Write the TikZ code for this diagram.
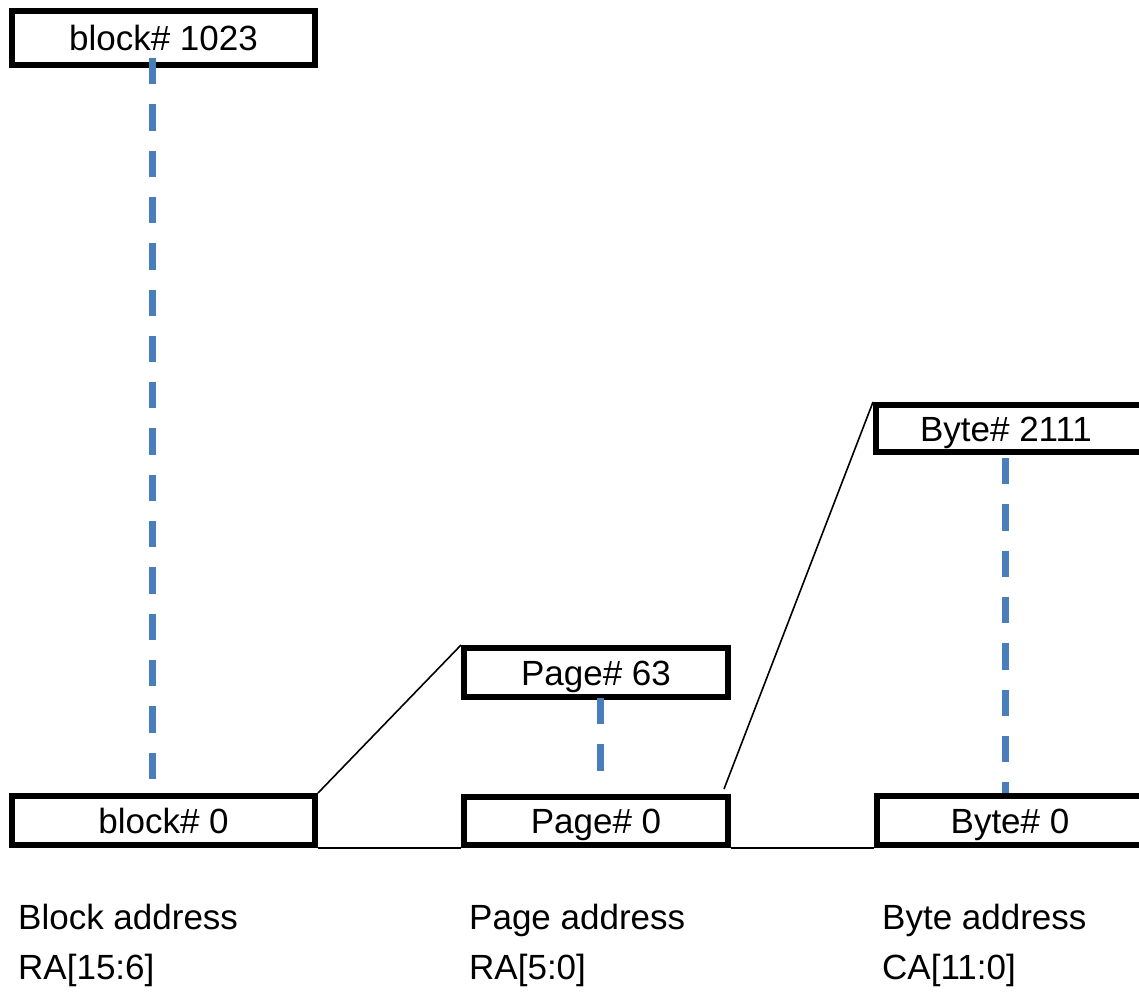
\documentclass[tikz,border=0pt]{standalone}
\usepackage{fontspec}
\setmainfont{Liberation Sans}
\definecolor{dashblue}{RGB}{74,126,187}
\begin{document}
\begin{tikzpicture}[x=1pt,y=-1pt,
  box/.style={draw, line width=6pt, inner sep=0pt, minimum height=49pt,
    font=\fontsize{35}{42}\selectfont, text height=25pt, text depth=0pt},
  blockbox/.style={box, minimum width=303pt},
  pagebox/.style={box, minimum width=264pt},
  bytebox/.style={box, minimum width=274pt},
  lbl/.style={anchor=base west, inner sep=0pt, font=\fontsize{35}{42}\selectfont},
  blueline/.style={draw=dashblue, line width=7pt, dash pattern=on 26.3pt off 20pt},
  thin/.style={draw=black, line width=1.6pt}
]
\useasboundingbox (0,0) rectangle (1139,992);
\clip (0,0) rectangle (1139,992);

% boxes
\node[blockbox, minimum height=54pt] (b1023) at (163.5,38) {block\# 1023};
\node[blockbox] (b0) at (163.5,820.5) {block\# 0};
\node[pagebox] (p63) at (596,672.5) {Page\# 63};
\node[pagebox, minimum height=48pt] (p0) at (596,821) {Page\# 0};
\node[bytebox, minimum height=47pt] (y2111) at (1013,428.5) {Byte\# 2111\hspace*{14pt}};
\node[bytebox] (y0) at (1014,820.5) {Byte\# 0\hspace*{8pt}};

% dashed connectors
\coordinate (bt) at (152.5,58);
\coordinate (bb) at (152.5,779);
\coordinate (pt) at (600,698);
\coordinate (pb) at (600,772);
\coordinate (yt) at (1005,458);
\coordinate (yb) at (1005,793);
\draw[blueline] (bt) -- (bb);
\draw[blueline] (pt) -- (pb);
\draw[blueline] (yt) -- (yb);

% thin connectors
\coordinate (pz) at (724,789);
\draw[thin] (b0.north east) -- (p63.north west);
\draw[thin] (pz) -- (y2111.north west);
\draw[thin] (b0.south east) -- (p0.south west);
\draw[thin] (p0.south east) -- (y0.south west);

% labels
\node[lbl] (l1a) at (18,929) {Block address};
\node[lbl] (l1b) at (18,979) {RA[15:6]};
\node[lbl] (l2a) at (469,929) {Page address};
\node[lbl] (l2b) at (469,979) {RA[5:0]};
\node[lbl] (l3a) at (882,929) {Byte address};
\node[lbl] (l3b) at (882,979) {CA[11:0]};
\end{tikzpicture}
\end{document}
